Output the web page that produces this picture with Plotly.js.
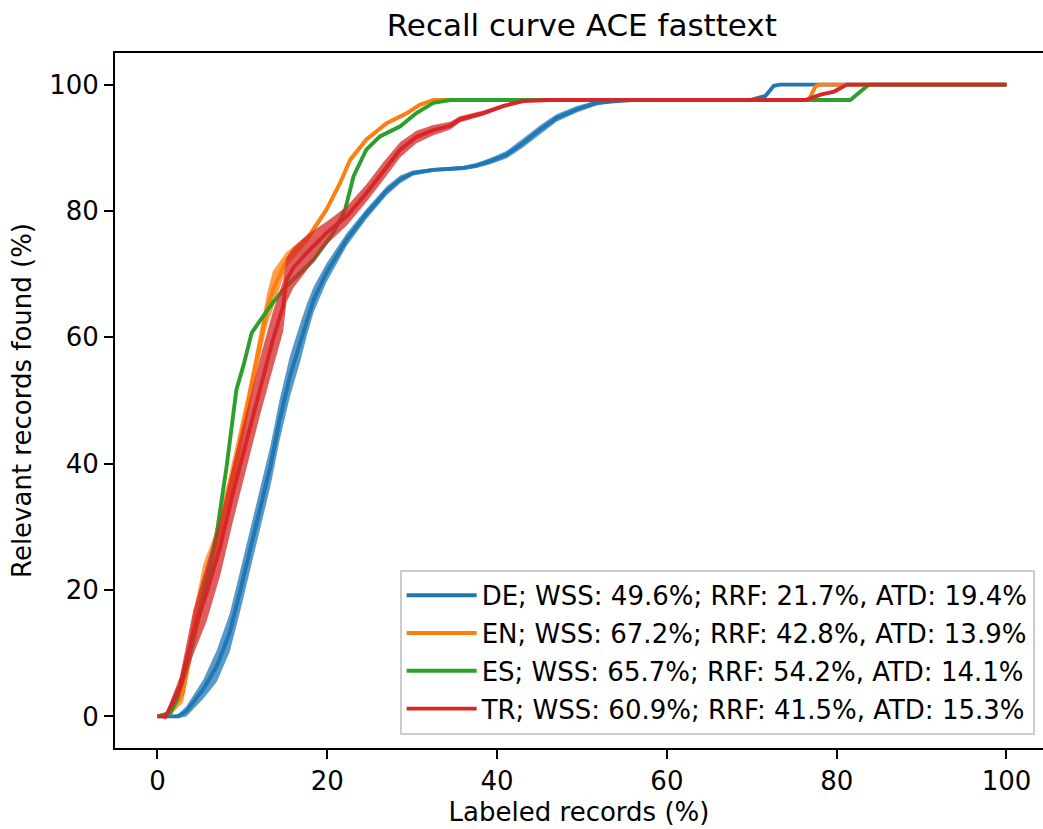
<!DOCTYPE html>
<html>
<head>
<meta charset="utf-8">
<script src="https://cdn.plot.ly/plotly-3.0.1.min.js"></script>
<style>html,body{margin:0;padding:0;background:#fff;}#chart{width:1043px;height:829px;}</style>
</head>
<body>
<div id="chart"></div>
<script>
// ---- data ----
const seriesNames = [
  "DE; WSS: 49.6%; RRF: 21.7%, ATD: 19.4%",
  "EN; WSS: 67.2%; RRF: 42.8%, ATD: 13.9%",
  "ES; WSS: 65.7%; RRF: 54.2%, ATD: 14.1%",
  "TR; WSS: 60.9%; RRF: 41.5%, ATD: 15.3%"
];
const seriesColors = ["#1f77b4", "#ff7f0e", "#2ca02c", "#d62728"];
const bandColors = ["rgba(31,119,180,0.75)", "rgba(255,127,14,0.75)", "rgba(44,160,44,0.75)", "rgba(214,39,40,0.75)"];

const deX   = [0, 2.4, 3.4, 5.4, 7.0, 8.5, 9.7, 10.9, 12.1, 13.3, 14.4, 15.6, 16.8, 17.6, 18.4, 19.9, 22.3, 24.6, 27.0, 28.6, 30.1, 32.5, 36.0, 37.6, 39.2, 41.1, 43.1, 45.1, 47.0, 49.4, 51.7, 54.1, 56.0, 69.8, 71.6, 72.6, 73.3, 100];
const deY   = [0, 0, 0.8, 4.3, 8.0, 13.2, 19.6, 26.4, 32.8, 39.6, 47.0, 53.8, 59.1, 62.8, 66.0, 70.2, 75.5, 79.5, 83.2, 85.0, 86.0, 86.5, 86.8, 87.2, 87.9, 88.9, 90.8, 92.9, 94.7, 96.1, 97.1, 97.4, 97.56, 97.56, 98.2, 99.8, 100, 100];
const deErr = [0, 0.3, 0.8, 1.5, 2.5, 3.0, 3.2, 3.2, 3.2, 3.2, 3.2, 3.2, 3.0, 2.5, 2.0, 1.5, 1.0, 0.8, 0.7, 0.6, 0.4, 0.3, 0.3, 0.4, 0.5, 0.6, 0.7, 0.7, 0.6, 0.5, 0.4, 0.2, 0, 0, 0, 0, 0, 0];

const enX   = [0, 1.5, 3.0, 4.2, 5.4, 6.6, 8.2, 9.3, 10.5, 11.7, 12.9, 13.6, 15.2, 17.6, 19.9, 21.5, 22.7, 24.6, 27.0, 29.4, 30.9, 32.5, 76.7, 77.5, 77.9, 100];
const enY   = [0, 0.5, 3.7, 13.2, 20.6, 25.9, 34.3, 40.7, 48.6, 56.5, 64.4, 67.5, 72.3, 75.5, 80.2, 84.4, 88.1, 91.3, 93.9, 95.5, 96.8, 97.56, 97.56, 99.7, 100, 100];
const enErr = [0, 0.3, 1.5, 3.0, 3.5, 2.5, 2.5, 2.5, 2.0, 2.0, 2.5, 3.0, 1.2, 0.6, 0.5, 0.5, 0.5, 0.4, 0.3, 0.3, 0.2, 0.2, 0, 0, 0, 0];

const esX   = [0, 1.5, 2.3, 4.0, 6.2, 7.0, 8.15, 9.3, 10.1, 11.1, 11.9, 13.6, 15.2, 18.4, 20.7, 22.1, 23.1, 24.6, 26.2, 28.6, 30.5, 32.5, 34.5, 81.6, 82.7, 83.8, 100];
const esY   = [0, 0.5, 2.7, 11.0, 23.8, 29.1, 39.6, 51.7, 55.4, 60.7, 62.3, 65.5, 68.1, 72.3, 76.5, 80.2, 85.5, 89.7, 91.8, 93.4, 95.5, 97.1, 97.56, 97.56, 98.8, 100, 100];
const esErr = [0, 0.2, 0.4, 0.5, 0.5, 0.5, 0.5, 0.5, 0.4, 0.4, 0.4, 0.4, 0.4, 0.4, 0.4, 0.4, 0.4, 0.4, 0.3, 0.3, 0.2, 0.2, 0, 0, 0, 0, 0];

const trX   = [0, 1.0, 2.65, 4.2, 5.8, 7.4, 8.9, 10.5, 12.1, 13.6, 14.8, 15.2, 16.0, 17.6, 19.9, 22.3, 24.6, 26.6, 28.6, 30.5, 32.5, 34.5, 35.6, 38.4, 40.7, 43.1, 46.2, 76.3, 78.1, 79.7, 80.8, 81.2, 100];
const trY   = [0, 0, 4.8, 13.2, 19.6, 26.9, 35.4, 43.8, 52.3, 59.6, 64.9, 69.1, 71.0, 73.4, 76.5, 79.2, 82.8, 86.3, 89.7, 91.7, 92.8, 93.5, 94.5, 95.5, 96.6, 97.4, 97.56, 97.56, 98.4, 98.9, 99.7, 100, 100];
const trErr = [0, 0.5, 1.5, 3.5, 4.5, 4.5, 4.5, 4.5, 4.5, 4.5, 4.0, 3.5, 3.2, 2.8, 1.8, 1.5, 1.4, 1.4, 1.2, 1.0, 0.8, 0.6, 0.5, 0.4, 0.3, 0.2, 0.1, 0, 0, 0, 0, 0, 0];

const xTicks = [0, 20, 40, 60, 80, 100];
const yTicks = [0, 20, 40, 60, 80, 100];

const allX = [deX, enX, esX, trX];
const allY = [deY, enY, esY, trY];
const allErr = [deErr, enErr, esErr, trErr];

const FONT = "DejaVu Sans, Liberation Sans, sans-serif";
const traces = [];
for (let i = 0; i < 4; i++) {
  const x = allX[i], y = allY[i], e = allErr[i];
  traces.push({
    x: x, y: y.map((v, k) => v - e[k]), mode: "lines", type: "scatter",
    line: {width: 0, color: bandColors[i]}, showlegend: false, hoverinfo: "skip"
  });
  traces.push({
    x: x, y: y.map((v, k) => v + e[k]), mode: "lines", type: "scatter",
    line: {width: 0, color: bandColors[i]}, fill: "tonexty", fillcolor: bandColors[i],
    showlegend: false, hoverinfo: "skip"
  });
  traces.push({
    x: x, y: y, mode: "lines", type: "scatter", name: seriesNames[i],
    legendgroup: "g" + i,
    line: {width: 3.9, color: seriesColors[i]}
  });
}

const layout = {
  width: 1043, height: 829,
  margin: {l: 115, r: 0, t: 53, b: 81},
  paper_bgcolor: "#ffffff", plot_bgcolor: "#ffffff",
  font: {family: FONT, size: 26, color: "#000000"},
  title: {text: "Recall curve ACE fasttext", font: {family: FONT, size: 31, color: "#000"},
          xref: "paper", x: 0.503, xanchor: "center", yref: "container", y: 1 - 25.5/829, yanchor: "middle"},
  xaxis: {
    range: [-5, 104.3], tickvals: xTicks, ticktext: xTicks.map(String),
    showgrid: false, zeroline: false, showline: true, mirror: true, linecolor: "#000", linewidth: 2,
    ticks: "outside", ticklen: 9, tickwidth: 2, tickcolor: "#000",
    tickfont: {family: FONT, size: 26, color: "#000"},
    title: {text: "Labeled records (%)", font: {family: FONT, size: 26, color: "#000"}, standoff: 8}
  },
  yaxis: {
    range: [-5, 105], tickvals: yTicks, ticktext: yTicks.map(String),
    showgrid: false, zeroline: false, showline: true, mirror: false, linecolor: "#000", linewidth: 2,
    ticks: "outside", ticklen: 9, tickwidth: 2, tickcolor: "#000",
    tickfont: {family: FONT, size: 26, color: "#000"},
    title: {text: "Relevant records found (%)", font: {family: FONT, size: 26, color: "#000"}, standoff: 10}
  },
  legend: {
    x: 0.991, xanchor: "right", y: 0.019, yanchor: "bottom",
    bgcolor: "rgba(255,255,255,0.8)", bordercolor: "#cccccc", borderwidth: 2,
    font: {family: FONT, size: 26, color: "#000"}, tracegroupgap: 1,
    itemwidth: 70
  },
  showlegend: true
};

Plotly.newPlot("chart", traces, layout, {displayModeBar: false, staticPlot: true});
</script>
</body>
</html>
